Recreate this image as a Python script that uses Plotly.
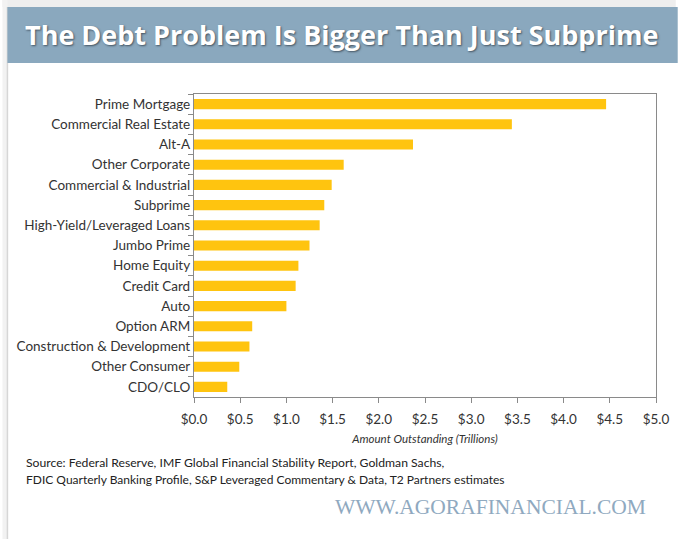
import plotly.graph_objects as go

# Outstanding debt by category, trillions of dollars
categories = [
    "Prime Mortgage", "Commercial Real Estate", "Alt-A", "Other Corporate",
    "Commercial & Industrial", "Subprime", "High-Yield/Leveraged Loans",
    "Jumbo Prime", "Home Equity", "Credit Card", "Auto", "Option ARM",
    "Construction & Development", "Other Consumer", "CDO/CLO",
]
amounts = [4.46, 3.44, 2.37, 1.62, 1.49, 1.41, 1.36, 1.25, 1.13, 1.10, 1.00,
           0.63, 0.60, 0.49, 0.36]

title_text = "The Debt Problem Is Bigger Than Just Subprime"
source_lines = [
    "Source: Federal Reserve, IMF Global Financial Stability Report, Goldman Sachs,",
    "FDIC Quarterly Banking Profile, S&amp;P Leveraged Commentary &amp; Data, T2 Partners estimates",
]
site_text = "WWW.AGORAFINANCIAL.COM"

W, H = 682, 539
L, R, T, B = 194, 20, 94, 142
PW, PH = W - L - R, H - T - B


def px(x):
    return (x - L) / PW


def py(y):
    return (H - B - y) / PH


fig = go.Figure(go.Bar(
    x=amounts, y=categories, orientation="h",
    marker=dict(color="#FFC40F", line=dict(width=0)),
    width=0.5,
))

shapes = [
    # light grey frame strip at top and left
    dict(type="rect", xref="paper", yref="paper", x0=px(0), x1=px(W), y0=py(7), y1=py(0),
         fillcolor="#eeeeee", line=dict(width=0), layer="below"),
    dict(type="rect", xref="paper", yref="paper", x0=px(0), x1=px(5), y0=py(H), y1=py(0),
         fillcolor="#f2f2f2", line=dict(width=0), layer="below"),
    dict(type="line", xref="paper", yref="paper", x0=px(5), x1=px(5), y0=py(H), y1=py(7),
         line=dict(color="#d6d6d6", width=1.5), layer="below"),
    # title banner
    dict(type="rect", xref="paper", yref="paper", x0=px(5), x1=px(W + 2), y0=py(63), y1=py(7),
         fillcolor="#8AA8BE", line=dict(width=0), layer="below"),
]

annotations = [
    dict(text="<b>" + title_text + "</b>", xref="paper", yref="paper",
         x=px(21), y=py(35), xanchor="left", yanchor="middle", showarrow=False,
         font=dict(family="Open Sans", size=27, color="white",
                   shadow="1px 1px 2px rgba(40,50,60,0.7)")),
    dict(text=source_lines[0], xref="paper", yref="paper",
         x=px(22), y=py(462), xanchor="left", yanchor="middle", showarrow=False,
         font=dict(family="Lato", size=12.2, color="#222222")),
    dict(text=source_lines[1], xref="paper", yref="paper",
         x=px(22), y=py(479), xanchor="left", yanchor="middle", showarrow=False,
         font=dict(family="Lato", size=12, color="#222222")),
    dict(text=site_text, xref="paper", yref="paper",
         x=px(654), y=py(507), xanchor="right", yanchor="middle", showarrow=False,
         font=dict(family="Liberation Serif", size=21.5, color="#8FA9C0")),
]

fig.update_layout(
    width=W, height=H,
    margin=dict(l=L, r=R, t=T, b=B, pad=0),
    paper_bgcolor="white", plot_bgcolor="white",
    showlegend=False,
    shapes=shapes, annotations=annotations,
    font=dict(family="Lato", color="#333333"),
    bargap=0.5,
)

fig.update_xaxes(
    range=[0, 5.0], dtick=0.5, tick0=0, tickprefix="$", tickformat=".1f",
    showgrid=False, zeroline=False,
    showline=True, mirror=True, linecolor="#8a8a8a", linewidth=1.2,
    ticks="outside", ticklen=5, tickcolor="#8a8a8a", ticklabelstandoff=5,
    tickfont=dict(family="Lato", size=13.5, color="#333333"),
    title=dict(text="Amount Outstanding (Trillions)", standoff=8,
               font=dict(family="Lato", size=11.5, color="#333333", style="italic")),
)

fig.update_yaxes(
    categoryorder="array", categoryarray=categories, autorange="reversed",
    showgrid=False, zeroline=False,
    showline=True, mirror=True, linecolor="#8a8a8a", linewidth=1.2,
    ticks="outside", ticklen=5, tickcolor="#8a8a8a", tickson="boundaries",
    tickfont=dict(family="Lato", size=13.5, color="#333333"),
)

fig.write_html("out.html")
